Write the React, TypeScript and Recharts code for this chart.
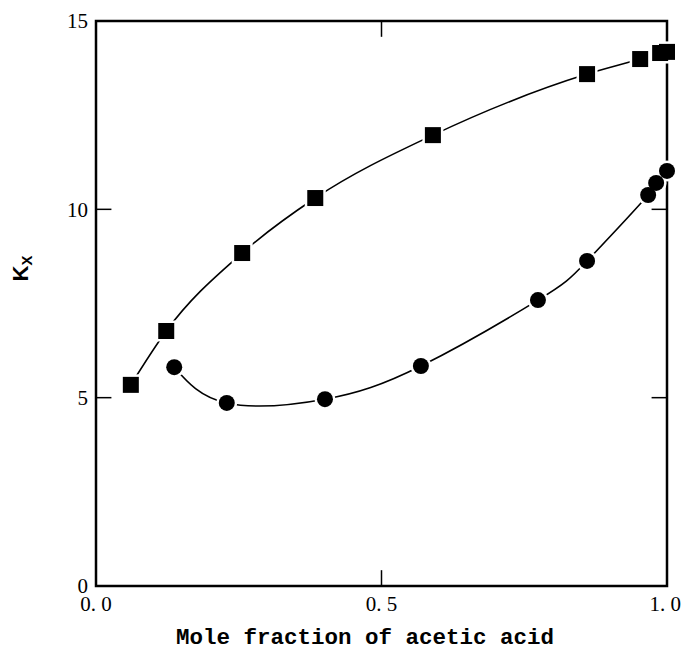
import {
  LineChart,
  Line,
  XAxis,
  YAxis,
  ReferenceArea,
  ReferenceLine,
} from "recharts";

// Squares (upper curve)
const squareX = [0.061, 0.123, 0.256, 0.384, 0.59, 0.86, 0.953, 0.988, 1.0];
const squareY = [5.34, 6.77, 8.84, 10.3, 11.97, 13.59, 13.99, 14.15, 14.18];

// Circles (lower curve)
const circleX = [0.137, 0.229, 0.401, 0.569, 0.774, 0.86, 0.967, 0.981, 1.0];
const circleY = [5.81, 4.86, 4.96, 5.84, 7.59, 8.63, 10.38, 10.7, 11.02];

const xTicks = [0, 0.5, 1];
const yTicks = [0, 5, 10, 15];

const squareData = squareX.map((x, i) => ({ x, y: squareY[i] }));
const circleData = circleX.map((x, i) => ({ x, y: circleY[i] }));

const tickFont = { fontFamily: "Liberation Serif", fontSize: 21, fill: "#000" };

// white halo under each marker, so the curve shows a small gap around it
function SquareHalo(props: any) {
  const { cx, cy, index } = props;
  if (cx == null || cy == null) return null;
  return <rect key={`sh-${index}`} x={cx - 10.5} y={cy - 10.5} width={21} height={21} fill="#fff" />;
}

function SquareDot(props: any) {
  const { cx, cy, index } = props;
  if (cx == null || cy == null) return null;
  return <rect key={`sq-${index}`} x={cx - 8} y={cy - 8} width={16} height={16} fill="#000" />;
}

function CircleHalo(props: any) {
  const { cx, cy, index } = props;
  if (cx == null || cy == null) return null;
  return <circle key={`ch-${index}`} cx={cx} cy={cy} r={10.5} fill="#fff" />;
}

function CircleDot(props: any) {
  const { cx, cy, index } = props;
  if (cx == null || cy == null) return null;
  return <circle key={`ci-${index}`} cx={cx} cy={cy} r={8} fill="#000" />;
}

function YTitle(props: any) {
  const { viewBox } = props;
  const cx = 12;
  const cy = viewBox.y + viewBox.height / 2 - 35;
  return (
    <text
      transform={`translate(${cx},${cy}) rotate(-90)`}
      textAnchor="middle"
      fontFamily="Liberation Sans"
      fontWeight="bold"
      fontSize={22}
      fill="#000"
      dominantBaseline="central"
    >
      K
      <tspan fontSize={15} dy={6}>
        X
      </tspan>
    </text>
  );
}

function XTitle(props: any) {
  const { viewBox } = props;
  return (
    <text
      x={357}
      y={viewBox.y + 52}
      textAnchor="middle"
      fontFamily="Liberation Mono"
      fontWeight="bold"
      fontSize={22.5}
      fill="#000"
      dominantBaseline="central"
    >
      Mole fraction of acetic acid
    </text>
  );
}

const tickLenX = 0.027; // inward tick length in x units
const tickLenY = 0.42; // inward tick length in y units

export default function App() {
  return (
    <LineChart
      width={673}
      height={643}
      margin={{ top: 13, right: 14, left: 38, bottom: 0 }}
      style={{ background: "#fff" }}
    >
      <XAxis
        type="number"
        dataKey="x"
        domain={[0, 1]}
        ticks={xTicks}
        tickFormatter={(v: number) => v.toFixed(1).replace(".", ". ")}
        tick={tickFont}
        tickLine={false}
        axisLine={false}
        tickSize={0}
        tickMargin={10}
        height={65}
        label={{ content: <XTitle /> }}
      />
      <YAxis
        type="number"
        domain={[0, 15]}
        ticks={yTicks}
        tick={tickFont}
        tickLine={false}
        axisLine={false}
        tickSize={0}
        tickMargin={8}
        width={50}
        label={{ content: <YTitle /> }}
      />
      <ReferenceArea
        x1={0}
        x2={1}
        y1={0}
        y2={15}
        fill="none"
        stroke="#000"
        strokeWidth={2.5}
        fillOpacity={0}
        strokeOpacity={1}
      />
      {yTicks
        .filter((t) => t > 0 && t < 15)
        .map((t) => (
          <ReferenceLine
            key={`yl-${t}`}
            segment={[
              { x: 0, y: t },
              { x: tickLenX, y: t },
            ]}
            stroke="#000"
            strokeWidth={1.5}
          />
        ))}
      {yTicks
        .filter((t) => t > 0 && t < 15)
        .map((t) => (
          <ReferenceLine
            key={`yr-${t}`}
            segment={[
              { x: 1 - tickLenX, y: t },
              { x: 1, y: t },
            ]}
            stroke="#000"
            strokeWidth={1.5}
          />
        ))}
      {xTicks
        .filter((t) => t > 0 && t < 1)
        .map((t) => (
          <ReferenceLine
            key={`xb-${t}`}
            segment={[
              { x: t, y: 0 },
              { x: t, y: tickLenY },
            ]}
            stroke="#000"
            strokeWidth={1.5}
          />
        ))}
      {xTicks
        .filter((t) => t > 0 && t < 1)
        .map((t) => (
          <ReferenceLine
            key={`xt-${t}`}
            segment={[
              { x: t, y: 15 - tickLenY },
              { x: t, y: 15 },
            ]}
            stroke="#000"
            strokeWidth={1.5}
          />
        ))}
      <Line
        data={squareData}
        dataKey="y"
        type="monotone"
        stroke="#000"
        strokeWidth={1.6}
        dot={<SquareHalo />}
        activeDot={false}
        isAnimationActive={false}
      />
      <Line
        data={circleData}
        dataKey="y"
        type="natural"
        stroke="#000"
        strokeWidth={1.6}
        dot={<CircleHalo />}
        activeDot={false}
        isAnimationActive={false}
      />
      <Line
        data={squareData}
        dataKey="y"
        stroke="none"
        dot={<SquareDot />}
        activeDot={false}
        isAnimationActive={false}
      />
      <Line
        data={circleData}
        dataKey="y"
        stroke="none"
        dot={<CircleDot />}
        activeDot={false}
        isAnimationActive={false}
      />
    </LineChart>
  );
}
